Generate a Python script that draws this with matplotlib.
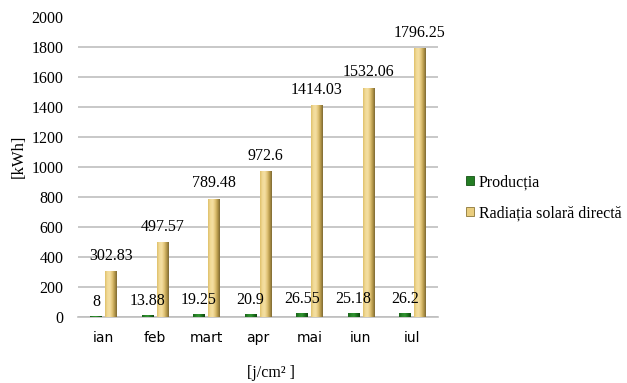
import matplotlib
matplotlib.use("Agg")
import matplotlib.pyplot as plt
import numpy as np
from matplotlib.colors import LinearSegmentedColormap
from matplotlib.patches import Patch

months = ["ian", "feb", "mart", "apr", "mai", "iun", "iul"]
productie = [8, 13.88, 19.25, 20.9, 26.55, 25.18, 26.2]
radiatie = [302.83, 497.57, 789.48, 972.6, 1414.03, 1532.06, 1796.25]
productie_labels = ["8", "13.88", "19.25", "20.9", "26.55", "25.18", "26.2"]
radiatie_labels = ["302.83", "497.57", "789.48", "972.6", "1414.03", "1532.06", "1796.25"]

SERIF = "Liberation Serif"
FS = 11.5

fig = plt.figure(figsize=(6.27, 3.83), dpi=100)
ax = fig.add_axes([78 / 627, 1 - 316.7 / 383, 360 / 627, 299.2 / 383])

x = np.arange(len(months))
w = 0.227
off = 0.146

gold_cmap = LinearSegmentedColormap.from_list(
    "gold", ["#DFC06A", "#F2DB98", "#F4DFA2", "#E3C679", "#B89A4C", "#7E6A33"])
green_cmap = LinearSegmentedColormap.from_list(
    "green", ["#1A641A", "#2A862A", "#329532", "#1C701C", "#0D440E"])

bars_p = ax.bar(x - off, productie, width=w, color="#237D23", zorder=3)
bars_r = ax.bar(x + off, radiatie, width=w, color="#EBD083", zorder=3)

grad = np.linspace(0, 1, 64).reshape(1, -1)
for bars, cmap in ((bars_p, green_cmap), (bars_r, gold_cmap)):
    for b in bars:
        x0, y0 = b.get_x(), b.get_y()
        im = ax.imshow(grad, cmap=cmap, aspect="auto", zorder=4,
                       extent=(x0, x0 + b.get_width(), y0, y0 + b.get_height()),
                       interpolation="bilinear")
        im.set_clip_path(b)

for i in range(len(months)):
    ax.annotate(productie_labels[i], (x[i] - off, productie[i]),
                xytext=(0, 7), textcoords="offset points",
                ha="center", va="baseline", fontsize=FS, family=SERIF, zorder=5)
    ax.annotate(radiatie_labels[i], (x[i] + off, radiatie[i]),
                xytext=(0, 8), textcoords="offset points",
                ha="center", va="baseline", fontsize=FS, family=SERIF, zorder=5)

ax.set_xlim(-0.5, len(months) - 0.5)
ax.set_ylim(0, 2000)
ax.set_yticks(np.arange(0, 2001, 200))
ax.set_xticks(x)
ax.set_xticklabels(months, fontsize=10, family="DejaVu Sans")
for t in ax.get_yticklabels():
    t.set_fontfamily(SERIF)
    t.set_fontsize(FS)
ax.tick_params(axis="both", length=0)
ax.tick_params(axis="y", pad=10.5)
ax.tick_params(axis="x", pad=10)
ax.grid(axis="y", color="#BFBFBF", linewidth=1.2, zorder=0)
ax.set_axisbelow(True)
for s in ("top", "right", "left"):
    ax.spines[s].set_visible(False)
ax.spines["bottom"].set_color("#BFBFBF")
ax.spines["bottom"].set_linewidth(1.2)

fig.text(19 / 627, 1 - 156 / 383, "[kWh]", rotation=90, ha="center", va="center",
         fontsize=12, family=SERIF)
fig.text(271 / 627, 1 - 373 / 383, "[j/cm² ]", ha="center", va="center",
         fontsize=FS, family=SERIF)

handles = [Patch(facecolor="#237D23", edgecolor="#145214", linewidth=0.6),
           Patch(facecolor="#E9CD7E", edgecolor="#8C7638", linewidth=0.6)]
fig.legend(handles, ["Producția", "Radiația solară directă"],
           loc="center left", bbox_to_anchor=(466 / 627, 1 - 198 / 383),
           frameon=False, prop={"family": SERIF, "size": FS},
           handlelength=0.5, handleheight=0.5, handletextpad=0.3,
           labelspacing=0.95, borderpad=0, borderaxespad=0)

fig.savefig("out.png", dpi=100)
